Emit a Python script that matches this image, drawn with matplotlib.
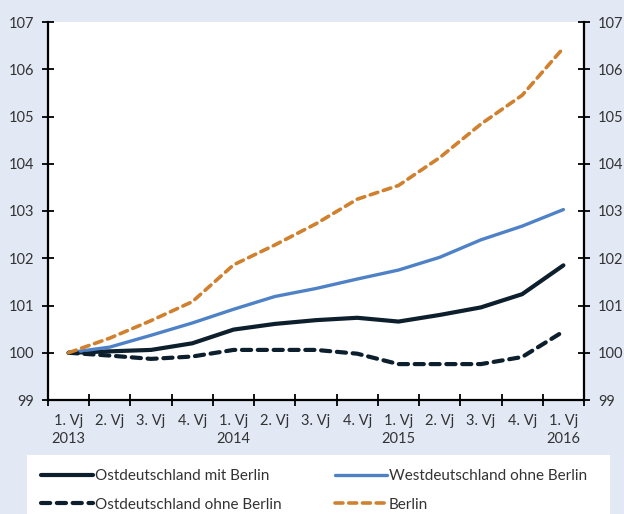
import matplotlib
matplotlib.use("Agg")
import matplotlib.pyplot as plt
from matplotlib.patches import Rectangle
import numpy as np

# --- Data -----------------------------------------------------------------
quarters = ["1. Vj", "2. Vj", "3. Vj", "4. Vj"] * 3 + ["1. Vj"]
years = ["2013", "", "", "", "2014", "", "", "", "2015", "", "", "", "2016"]

ost_mit_berlin = [100.0, 100.03, 100.06, 100.2, 100.49, 100.61, 100.69,
                  100.74, 100.66, 100.8, 100.96, 101.24, 101.85]
west_ohne_berlin = [100.0, 100.12, 100.37, 100.63, 100.92, 101.19, 101.36,
                    101.56, 101.75, 102.02, 102.39, 102.68, 103.03]
ost_ohne_berlin = [100.0, 99.94, 99.87, 99.92, 100.06, 100.06, 100.06,
                   99.98, 99.76, 99.76, 99.76, 99.91, 100.45]
berlin = [100.0, 100.31, 100.68, 101.08, 101.86, 102.28, 102.73,
          103.25, 103.54, 104.13, 104.84, 105.45, 106.45]

y_ticks = [99, 100, 101, 102, 103, 104, 105, 106, 107]

# --- Style ----------------------------------------------------------------
BG = "#E2E9F5"
DARK = "#0D1F2D"
BLUE = "#4F81C7"
ORANGE = "#D0812F"
TEXT = "#333333"
W, H = 624, 514

plt.rcParams["font.family"] = ["Lato", "DejaVu Sans"]

fig = plt.figure(figsize=(W / 100, H / 100), dpi=100, facecolor=BG)
ax = fig.add_axes([48 / W, 114 / H, 536 / W, 378 / H])
ax.set_facecolor("white")

x = np.arange(len(quarters))
l_ost, = ax.plot(x, ost_mit_berlin, color=DARK, lw=3.0,
                 solid_capstyle="round", label="Ostdeutschland mit Berlin")
l_west, = ax.plot(x, west_ohne_berlin, color=BLUE, lw=2.4,
                  solid_capstyle="round", label="Westdeutschland ohne Berlin")
l_ost2, = ax.plot(x, ost_ohne_berlin, color=DARK, lw=3.0, dashes=(2.2, 1.6),
                  dash_capstyle="round", label="Ostdeutschland ohne Berlin")
l_ber, = ax.plot(x, berlin, color=ORANGE, lw=2.6, dashes=(2.2, 1.6),
                 dash_capstyle="round", label="Berlin")

ax.set_xlim(-0.5, len(quarters) - 0.5)
ax.set_ylim(y_ticks[0], y_ticks[-1])

# tick marks at category borders, labels centred on categories
ax.set_xticks(np.arange(len(quarters) + 1) - 0.5)
ax.set_xticklabels([])
ax.set_xticks(x, minor=True)
ax.set_xticklabels([f"{q}\n{y}" for q, y in zip(quarters, years)],
                   minor=True, fontsize=10.5, color=TEXT, linespacing=1.35)
ax.tick_params(axis="x", which="major", direction="inout", length=8,
               width=1.3, color="black")
ax.tick_params(axis="x", which="minor", length=0, pad=10)

ax.set_yticks(y_ticks)
ax.set_yticklabels([str(v) for v in y_ticks], fontsize=10.5, color=TEXT)
ax.tick_params(axis="y", direction="inout", length=8, width=1.3,
               left=True, right=True, labelleft=True, labelright=True, pad=6)

for side in ("left", "right", "bottom"):
    ax.spines[side].set_linewidth(1.6)
    ax.spines[side].set_color("black")
ax.spines["top"].set_visible(False)

# white legend panel running off the bottom edge
fig.patches.append(Rectangle((27 / W, -0.02), 583 / W, 59 / H + 0.02,
                             transform=fig.transFigure, facecolor="white",
                             edgecolor="none", zorder=0))

leg = fig.legend([l_ost, l_ost2, l_west, l_ber],
                 [h.get_label() for h in (l_ost, l_ost2, l_west, l_ber)],
                 loc="upper left", bbox_to_anchor=(41 / W, 45 / H),
                 ncol=2, frameon=False, fontsize=11,
                 handlelength=3.4, handletextpad=0.15, columnspacing=3.45,
                 labelspacing=0.95, borderpad=0, borderaxespad=0)
for t in leg.get_texts():
    t.set_color(TEXT)

fig.savefig("out.png", dpi=100, facecolor=BG)
